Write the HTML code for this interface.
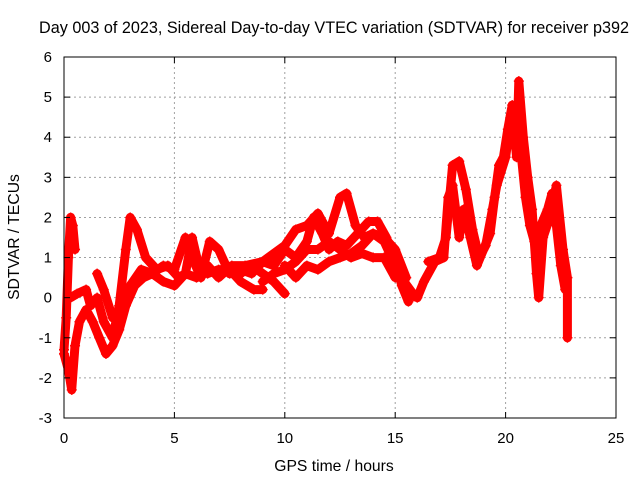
<!DOCTYPE html>
<html><head><meta charset="utf-8"><style>
body{margin:0;background:#fff}
svg{display:block;font-family:"Liberation Sans",sans-serif;font-size:15px}
</style></head><body>
<svg id="chart" width="640" height="480" viewBox="0 0 640 480">
<rect width="640" height="480" fill="#fff"/>
<text x="334" y="33" text-anchor="middle" style="font-size:16.2px">Day 003 of 2023, Sidereal Day-to-day VTEC variation (SDTVAR) for receiver p392</text>
<g id="grid"></g><g id="marks"></g>
<rect x="64" y="57" width="552" height="361" fill="none" stroke="#000" stroke-width="1"/>
<g id="axes"></g>
<text x="334" y="471" text-anchor="middle" style="font-size:15.7px">GPS time / hours</text>
<text transform="translate(19,237) rotate(-90)" text-anchor="middle" style="font-size:15.7px">SDTVAR / TECUs</text>
</svg>
<script>
const xTicks=[0,5,10,15,20,25];
const yTicks=[-3,-2,-1,0,1,2,3,4,5,6];
const trackA=[[0,-1.3],[0.1,-0.5],[0.2,1.0],[0.3,2.0],[0.4,1.8],[0.5,1.2]];
const trackB=[[0,-1.4],[0.2,-1.8],[0.35,-2.3],[0.5,-1.2],[0.7,-0.6],[1.0,-0.3],[1.3,-0.6],[1.6,-1.0],[1.9,-1.4],[2.2,-1.2],[2.5,-0.8],[2.8,-0.2],[3.2,0.3],[3.6,0.5],[4.0,0.6],[4.5,0.8],[5,0.7],[5.5,1.5],[5.8,1.0],[6.2,0.5],[6.6,1.4],[7,1.2],[7.5,0.6],[8,0.6],[8.5,0.8],[9,0.6],[9.5,0.4],[10,0.1]];
const trackC=[[0.3,0],[0.6,0.1],[1.0,0.2],[1.2,-0.2],[1.5,0.0],[1.8,-0.6],[2.2,-1.0],[2.5,-0.2],[2.8,1.2],[3.0,2.0],[3.3,1.7],[3.7,1.0],[4.2,0.7],[4.7,0.8],[5.2,0.5],[5.5,0.6],[5.8,1.5],[6.1,0.8],[6.5,0.6],[7.0,0.7],[7.5,0.7],[8,0.4],[8.6,0.2],[9,0.2]];
const trackD=[[1.5,0.6],[1.8,0.2],[2.2,-0.5],[2.6,-0.3],[3.0,0.3],[3.5,0.7],[4.0,0.6],[4.5,0.4],[5,0.3],[5.5,0.6],[6,0.5],[6.5,0.8],[7,0.5],[7.6,0.8],[8.2,0.8],[9,0.9],[9.5,1.1],[10,1.3],[10.5,1.7],[11,1.8],[11.5,2.1],[12,1.6],[12.5,2.5],[12.8,2.6],[13.2,1.8],[13.6,1.5],[14,1.6],[14.5,1.4],[15,0.8],[15.4,0.4],[15.8,0.1]];
const trackE=[[8,0.7],[8.5,0.6],[9,0.9],[9.5,0.8],[10,1.2],[10.5,1.0],[11,1.4],[11.3,2.0],[11.7,1.6],[12,1.2],[12.4,1.4],[12.8,1.3],[13.3,1.6],[13.8,1.9],[14.2,1.9],[14.6,1.5],[15,0.9],[15.3,0.3],[15.6,-0.1]];
const trackF=[[9,0.4],[9.5,0.6],[10,0.7],[10.5,0.9],[11,1.2],[11.5,1.2],[12,1.4],[12.5,1.2],[13,1.0],[13.5,1.1],[14,1.0],[14.5,1.0],[15,0.5]];
const trackG=[[10,0.8],[10.5,0.5],[11,0.8],[11.5,0.7],[12,0.9],[12.5,1.0],[13,1.1],[13.5,1.3],[14,1.6],[14.5,1.5],[15,1.2],[15.5,0.5]];
const trackH=[[15.5,0.1],[16,0.0],[16.3,0.4],[16.8,0.9],[17.2,1.0],[17.4,2.5],[17.6,2.8],[17.9,1.5],[18.1,2.2],[18.4,1.5],[18.7,0.8],[19,1.2],[19.3,1.6],[19.5,2.5],[19.7,3.3],[19.9,3.5],[20.1,4.2],[20.3,4.8],[20.5,4.7],[20.7,3.6],[20.9,2.5],[21.1,1.8],[21.3,1.4],[21.6,1.8],[21.9,2.2],[22.1,2.6],[22.3,1.8],[22.5,0.8],[22.7,0.2]];
const trackI=[[16.5,0.9],[17,1.0],[17.3,1.5],[17.6,3.3],[17.9,3.4],[18.2,2.7],[18.5,1.7],[18.8,1.0],[19.1,1.3],[19.4,2.2],[19.6,2.8],[20.0,3.5],[20.3,4.7],[20.5,3.5],[20.6,5.4],[20.8,4.0],[21.0,3.0],[21.2,2.2],[21.4,0.6],[21.5,0.0],[21.7,1.5],[22.0,2.0],[22.3,2.8],[22.6,1.2],[22.8,0.5],[22.8,-1.0]];
const tracks=[trackA,trackB,trackC,trackD,trackE,trackF,trackG,trackH,trackI];
const X0=64,X1=616,Y0=418,Y1=57;
function sx(v){return X0+(v-0)/(25-0)*(X1-X0);}
function sy(v){return Y0-(v+3)/(6+3)*(Y0-Y1);}
const NS='http://www.w3.org/2000/svg';
function mk(t,a,p){const e=document.createElementNS(NS,t);for(const k in a)e.setAttribute(k,a[k]);p.appendChild(e);return e;}
const grid=document.getElementById('grid'),axes=document.getElementById('axes'),marks=document.getElementById('marks');
xTicks.forEach(t=>{const x=sx(t);
 if(t>0&&t<25){const g=mk('line',{x1:x,x2:x,y1:Y1,y2:Y0,stroke:'#a0a0a0','stroke-dasharray':'2,3'},grid);
 
 }
 mk('line',{x1:x,x2:x,y1:Y0,y2:Y0-6,stroke:'#000'},axes);mk('line',{x1:x,x2:x,y1:Y1,y2:Y1+6,stroke:'#000'},axes);
 const l=mk('text',{x:x,y:443,'text-anchor':'middle'},axes);l.textContent=t;
 
 });
yTicks.forEach(t=>{const y=sy(t);
 if(t>-3&&t<6){const g=mk('line',{x1:X0,x2:X1,y1:y,y2:y,stroke:'#a0a0a0','stroke-dasharray':'2,3'},grid);
 
 }
 mk('line',{x1:X0,x2:X0+6,y1:y,y2:y,stroke:'#000'},axes);mk('line',{x1:X1,x2:X1-6,y1:y,y2:y,stroke:'#000'},axes);
 const l=mk('text',{x:52,y:y+5,'text-anchor':'end'},axes);l.textContent=t;
 
 });
tracks.forEach((tr,i)=>{
 const pts=tr.map(p=>sx(p[0]).toFixed(1)+','+sy(p[1]).toFixed(1)).join(' ');
 const pl=mk('polyline',{points:pts,fill:'none',stroke:'#f00','stroke-width':9,'stroke-linejoin':'round','stroke-linecap':'round'},marks);
 
 
 tr.forEach(p=>{const x=sx(p[0]),y=sy(p[1]);
  const m=mk('path',{d:`M${x-5},${y}H${x+5}M${x},${y-5}V${y+5}`,stroke:'#f00','stroke-width':1.5},marks);
  
  });
});
</script>
</body></html>
